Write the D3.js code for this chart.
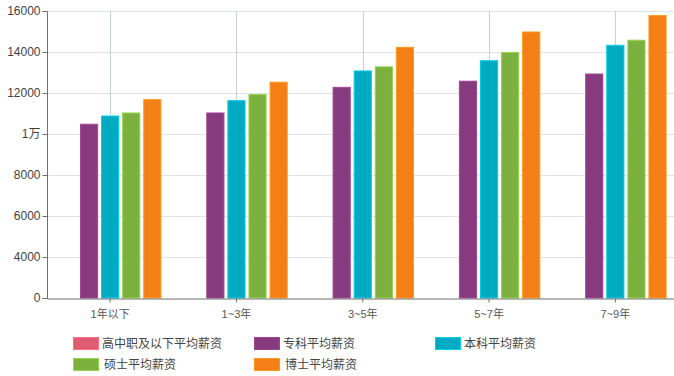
<!DOCTYPE html>
<html>
<head>
<meta charset="utf-8">
<script src="https://cdn.jsdelivr.net/npm/d3@7"></script>
<style>
  html, body { margin: 0; padding: 0; background: #fff; }
  svg { display: block; font-family: "Liberation Sans", "Noto Sans CJK SC", sans-serif; }
</style>
</head>
<body>
<svg id="chart" width="674" height="376"></svg>
<script>
const categories = ["1年以下", "1~3年", "3~5年", "5~7年", "7~9年"];
const seriesNames = ["高中职及以下平均薪资", "专科平均薪资", "本科平均薪资", "硕士平均薪资", "博士平均薪资"];
const seriesColors = ["#de5b71", "#873a7e", "#00abc2", "#7db13f", "#f47f17"];
const highSchool = [null, null, null, null, null];
const associate = [10500, 11050, 12300, 12600, 12950];
const bachelor = [10900, 11650, 13100, 13600, 14350];
const master = [11050, 11950, 13300, 14000, 14600];
const doctor = [11700, 12550, 14250, 15000, 15800];
const yTickValues = [0, 4000, 6000, 8000, 10000, 12000, 14000, 16000];
const yTickLabels = ["0", "4000", "6000", "8000", "1万", "12000", "14000", "16000"];

const seriesValues = [highSchool, associate, bachelor, master, doctor];

const svg = d3.select("#chart");
const pLeft = 47, pRight = 678.5, pTop = 11, pBottom = 298, svgW = 674;

const x0 = d3.scaleBand().domain(categories).range([pLeft, pRight]).paddingInner(0).paddingOuter(0);
const bw = x0.bandwidth();
const x1 = d3.scaleBand().domain(seriesNames).range([11.9, bw - 11.9]).paddingInner(0.14).paddingOuter(0);
// the axis shows evenly spaced ticks 0, 4000, 6000 ... 16000
const y = d3.scaleLinear().domain([0, 4000, 16000]).range([pBottom, pBottom - 41, pTop]);

// horizontal gridlines
svg.append("g").selectAll("line").data(yTickValues.filter(v => v > 0)).join("line")
  .attr("x1", pLeft).attr("x2", svgW)
  .attr("y1", d => Math.round(y(d)) + 0.5).attr("y2", d => Math.round(y(d)) + 0.5)
  .attr("stroke", "#dde3e6").attr("stroke-width", 1);

// vertical gridlines at category centers
svg.append("g").selectAll("line").data(categories).join("line")
  .attr("x1", d => Math.round(x0(d) + bw / 2) + 0.5).attr("x2", d => Math.round(x0(d) + bw / 2) + 0.5)
  .attr("y1", pTop).attr("y2", pBottom)
  .attr("stroke", "#c6cfd4").attr("stroke-width", 1);

// bars
const groups = svg.append("g").selectAll("g").data(categories).join("g")
  .attr("transform", d => `translate(${x0(d)},0)`);
groups.selectAll("rect")
  .data((c, ci) => seriesNames.map((s, si) => ({ s, si, v: seriesValues[si][ci] })).filter(d => d.v != null))
  .join("rect")
  .attr("x", d => x1(d.s) + 0.5)
  .attr("y", d => y(d.v) + 0.5)
  .attr("width", x1.bandwidth() - 1)
  .attr("height", d => y(0) - y(d.v) - 0.5)
  .attr("fill", d => seriesColors[d.si])
  .attr("stroke", d => d3.color(seriesColors[d.si]).brighter(0.5))
  .attr("stroke-width", 1);

// y axis
const yAxis = d3.axisLeft(y).tickValues(yTickValues).tickSize(5).tickPadding(2)
  .tickFormat((d, i) => yTickLabels[i]);
const gy = svg.append("g").attr("transform", `translate(${pLeft + 0.5},0)`).call(yAxis);
gy.select(".domain").attr("stroke", "#6f6f6f").attr("d", `M-5,${pTop + 0.5}H0V${pBottom + 0.5}H-5`);
gy.selectAll(".tick line").attr("stroke", "#6f6f6f");
gy.selectAll(".tick text").attr("fill", "#3f3f3f").style("font-size", "12px")
  .style("font-family", "'Liberation Sans','Noto Sans CJK SC',sans-serif");

// x axis
const xAxis = d3.axisBottom(x0).tickSize(4).tickPadding(8).tickSizeOuter(0);
const gx = svg.append("g").attr("transform", `translate(0,${pBottom + 0.5})`).call(xAxis);
gx.select(".domain").attr("stroke", "#6f6f6f");
gx.selectAll(".tick line").attr("stroke", "#6f6f6f");
gx.selectAll(".tick text").attr("fill", "#555").style("font-size", "11px")
  .style("font-family", "'Liberation Sans','Noto Sans CJK SC',sans-serif");

// legend
const legendPos = [[73, 337], [254, 337], [435, 337], [73, 358], [254, 358]];
const lg = svg.append("g").selectAll("g").data(seriesNames).join("g")
  .attr("transform", (d, i) => `translate(${legendPos[i][0]},${legendPos[i][1]})`);
lg.append("rect").attr("x", 0.5).attr("y", 0.5).attr("width", 25).attr("height", 12)
  .attr("fill", (d, i) => seriesColors[i])
  .attr("stroke", (d, i) => d3.color(seriesColors[i]).brighter(0.5));
lg.append("text").attr("x", (d, i) => i === 3 || i === 4 ? 31 : 29).attr("y", 6.5)
  .attr("dy", "0.35em").attr("fill", "#444").style("font-size", "12px")
  .text(d => d);
</script>
</body>
</html>
